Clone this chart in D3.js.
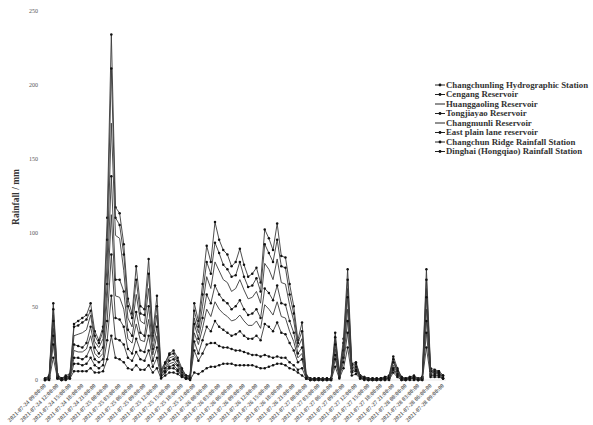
<html>

<head>
	<meta charset="utf-8">
	<script src="https://d3js.org/d3.v7.min.js"></script>
</head>

<body style="margin:0;background:#fff">
	<svg width="593" height="425"></svg>
	<script>
		// hourly rainfall, 2021-07-24 09:00 .. 2021-07-28 09:00 (97 readings)
		var hours = d3.range(97);

		var tickLabels = ["2021-07-24 09:00:00", "2021-07-24 12:00:00", "2021-07-24 15:00:00", "2021-07-24 18:00:00", "2021-07-24 21:00:00",
			"2021-07-25 00:00:00", "2021-07-25 03:00:00", "2021-07-25 06:00:00", "2021-07-25 09:00:00", "2021-07-25 12:00:00", "2021-07-25 15:00:00", "2021-07-25 18:00:00", "2021-07-25 21:00:00",
			"2021-07-26 00:00:00", "2021-07-26 03:00:00", "2021-07-26 06:00:00", "2021-07-26 09:00:00", "2021-07-26 12:00:00", "2021-07-26 15:00:00", "2021-07-26 18:00:00", "2021-07-26 21:00:00",
			"2021-07-27 00:00:00", "2021-07-27 03:00:00", "2021-07-27 06:00:00", "2021-07-27 09:00:00", "2021-07-27 12:00:00", "2021-07-27 15:00:00", "2021-07-27 18:00:00", "2021-07-27 21:00:00",
			"2021-07-28 00:00:00", "2021-07-28 03:00:00", "2021-07-28 06:00:00", "2021-07-28 09:00:00"];

		var names = ["Changchunling Hydrographic Station", "Cengang Reservoir", "Huanggaoling Reservoir", "Tongjiayao Reservoir",
			"Changmunli Reservoir", "East plain lane reservoir", "Changchun Ridge Rainfall Station", "Dinghai (Hongqiao) Rainfall Station"];
		var hasMarker = [true, true, false, true, false, true, true, true];

		var changchunling = [1, 3, 52, 4, 1, 3, 4, 38, 40, 42, 44, 52, 33, 27, 36, 110, 234, 117, 113, 92, 55, 45, 77, 50, 48, 82, 32, 57, 7, 12,
			18, 20, 15, 8, 3, 3, 52, 40, 65, 91, 80, 107, 95, 88, 85, 77, 80, 89, 78, 70, 72, 76, 66, 102, 96, 88, 106, 84, 83, 65,
			50, 27, 39, 3, 1, 1, 1, 1, 1, 1, 32, 5, 28, 75, 11, 12, 3, 2, 1, 1, 1, 1, 2, 3, 16, 8, 2, 1, 2, 3, 1, 2, 75, 8, 7, 6, 3];
		var cengang = [1, 2, 48, 3, 1, 2, 3, 36, 37, 39, 41, 47, 30, 25, 33, 95, 211, 110, 105, 85, 50, 42, 68, 45, 44, 72, 30, 50, 6, 11,
			17, 18, 13, 7, 3, 2, 47, 36, 58, 80, 72, 93, 86, 78, 75, 70, 71, 80, 70, 63, 64, 69, 60, 92, 86, 80, 95, 77, 76, 58,
			45, 25, 33, 3, 1, 1, 1, 1, 0, 1, 29, 4, 25, 68, 10, 11, 3, 2, 1, 1, 1, 1, 2, 2, 14, 7, 2, 1, 2, 2, 1, 2, 68, 7, 6, 6, 3];
		var huanggaoling = [1, 2, 44, 3, 1, 2, 3, 30, 31, 32, 34, 44, 26, 22, 28, 80, 174, 98, 96, 74, 42, 36, 58, 40, 38, 62, 26, 44, 5, 10,
			15, 16, 12, 6, 2, 2, 42, 32, 50, 70, 62, 80, 74, 68, 66, 60, 62, 68, 61, 55, 56, 60, 52, 79, 75, 68, 82, 66, 65, 51,
			40, 22, 28, 2, 1, 1, 0, 1, 0, 1, 27, 4, 22, 62, 9, 10, 3, 2, 1, 1, 1, 0, 1, 2, 13, 6, 1, 1, 1, 2, 1, 1, 62, 6, 6, 5, 2];
		var tongjiayao = [0, 2, 40, 2, 1, 2, 2, 24, 23, 22, 25, 36, 22, 18, 22, 65, 138, 68, 68, 60, 34, 30, 46, 32, 30, 50, 21, 36, 4, 8,
			13, 14, 10, 5, 2, 2, 38, 28, 42, 58, 52, 64, 58, 54, 52, 48, 50, 54, 48, 44, 45, 48, 42, 62, 59, 54, 64, 52, 51, 40,
			32, 18, 22, 2, 1, 0, 1, 0, 1, 1, 24, 3, 20, 56, 8, 9, 2, 1, 1, 0, 1, 1, 1, 2, 12, 6, 1, 1, 1, 2, 0, 1, 56, 6, 5, 5, 2];
		var changmunli = [0, 1, 35, 2, 0, 1, 2, 20, 19, 19, 21, 30, 18, 15, 18, 55, 112, 57, 56, 48, 28, 25, 38, 27, 26, 41, 17, 30, 4, 7,
			11, 12, 9, 4, 2, 1, 32, 24, 35, 48, 43, 53, 48, 45, 43, 40, 41, 44, 40, 37, 37, 40, 35, 51, 48, 44, 53, 43, 42, 33,
			26, 15, 18, 2, 1, 0, 0, 1, 0, 0, 21, 3, 18, 48, 7, 8, 2, 1, 1, 0, 0, 1, 1, 1, 10, 5, 1, 0, 1, 1, 0, 1, 48, 5, 5, 4, 2];
		var eastPlain = [0, 1, 30, 2, 0, 1, 2, 15, 15, 14, 16, 22, 14, 12, 14, 40, 85, 42, 41, 36, 21, 18, 28, 20, 19, 30, 13, 22, 3, 6,
			9, 10, 7, 3, 1, 1, 26, 18, 27, 36, 33, 40, 36, 34, 32, 30, 31, 33, 30, 28, 28, 30, 27, 38, 36, 33, 39, 32, 31, 25,
			20, 12, 14, 1, 0, 1, 0, 0, 1, 0, 17, 2, 15, 40, 6, 7, 2, 1, 0, 1, 0, 0, 1, 1, 8, 4, 1, 0, 1, 1, 0, 1, 40, 4, 4, 4, 1];
		var changchunRidge = [0, 1, 24, 1, 0, 1, 1, 11, 11, 10, 11, 15, 10, 8, 10, 27, 57, 28, 27, 24, 15, 13, 19, 14, 13, 20, 9, 15, 2, 5,
			8, 8, 6, 3, 1, 1, 20, 13, 18, 24, 25, 25, 23, 22, 22, 21, 20, 20, 19, 18, 17, 17, 16, 17, 16, 15, 16, 15, 15, 12,
			10, 7, 8, 1, 0, 0, 1, 0, 0, 0, 14, 2, 12, 32, 5, 6, 1, 1, 0, 0, 0, 1, 0, 1, 7, 3, 0, 0, 1, 1, 0, 0, 32, 3, 3, 3, 1];
		var dinghai = [0, 0, 15, 1, 0, 0, 1, 6, 6, 6, 6, 8, 5, 5, 6, 14, 30, 15, 14, 12, 8, 7, 10, 7, 7, 10, 5, 8, 1, 3,
			5, 5, 4, 2, 1, 0, 5, 4, 6, 8, 9, 9, 10, 11, 11, 11, 10, 10, 10, 10, 10, 9, 8, 8, 9, 10, 11, 11, 10, 8,
			7, 5, 3, 1, 0, 0, 0, 0, 0, 0, 9, 1, 8, 22, 3, 4, 1, 0, 0, 0, 0, 0, 0, 0, 5, 2, 0, 0, 0, 0, 0, 0, 22, 2, 2, 2, 1];

		var seriesValues = [changchunling, cengang, huanggaoling, tongjiayao, changmunli, eastPlain, changchunRidge, dinghai];
		var yTicks = [0, 50, 100, 150, 200, 250];

		var svg = d3.select("svg"),
			serif = "'Liberation Serif', 'Times New Roman', serif";

		var x = d3.scaleLinear()
			.domain([0, hours.length - 1])
			.range([45, 443]);

		var y = d3.scaleLinear()
			.domain([0, 250])
			.range([380, 11]);

		// faint baseline
		svg.append("line")
			.attr("x1", 40).attr("x2", 446)
			.attr("y1", y(0)).attr("y2", y(0))
			.attr("stroke", "#e4e4e4")
			.attr("stroke-width", 0.8);

		// y axis: labels only
		var yAxis = svg.append("g")
			.attr("transform", "translate(40,0)")
			.call(d3.axisLeft(y).tickValues(yTicks).tickSize(0).tickPadding(2));
		yAxis.select(".domain").remove();
		yAxis.selectAll("text")
			.attr("font-family", serif)
			.attr("font-size", 6)
			.attr("fill", "#555");

		// x labels every 3 hours
		svg.append("g")
			.selectAll("text")
			.data(tickLabels)
			.enter().append("text")
			.attr("transform", function (d, i) { return "translate(" + (x(i * 3) + 1.5) + ",386) rotate(-45)"; })
			.attr("text-anchor", "end")
			.attr("font-family", serif)
			.attr("font-size", 6)
			.attr("font-weight", "bold")
			.attr("fill", "#6a6a6a")
			.text(function (d) { return d; });

		svg.append("text")
			.attr("transform", "translate(19,197) rotate(-90)")
			.attr("text-anchor", "middle")
			.attr("font-family", serif)
			.attr("font-size", 9.5)
			.attr("font-weight", "bold")
			.attr("fill", "#333")
			.text("Rainfall / mm");

		var line = d3.line()
			.x(function (d, i) { return x(i); })
			.y(function (d) { return y(d); });

		var lines = svg.append("g")
			.selectAll("g")
			.data(seriesValues)
			.enter().append("g");

		lines.append("path")
			.attr("d", function (d) { return line(d); })
			.attr("fill", "none")
			.attr("stroke", "#3a3a3a")
			.attr("stroke-width", 0.9);

		lines.filter(function (d, i) { return hasMarker[i]; })
			.selectAll("circle")
			.data(function (d) { return d; })
			.enter().append("circle")
			.attr("cx", function (d, i) { return x(i); })
			.attr("cy", function (d) { return y(d); })
			.attr("r", 1.25)
			.attr("fill", "#111");

		// legend
		var legend = svg.append("g")
			.selectAll("g")
			.data(names)
			.enter().append("g")
			.attr("transform", function (d, i) { return "translate(435," + (85 + i * 9.5) + ")"; });

		legend.append("line")
			.attr("x1", 0).attr("x2", 10)
			.attr("stroke", "#222")
			.attr("stroke-width", 1);

		legend.filter(function (d, i) { return hasMarker[i]; })
			.append("circle")
			.attr("cx", 5)
			.attr("r", 1.4)
			.attr("fill", "#111");

		legend.append("text")
			.attr("x", 11)
			.attr("dy", "0.33em")
			.attr("font-family", serif)
			.attr("font-size", 8.8)
			.attr("font-weight", "bold")
			.attr("fill", "#333")
			.text(function (d) { return d; });
	</script>

</body>

</html>
